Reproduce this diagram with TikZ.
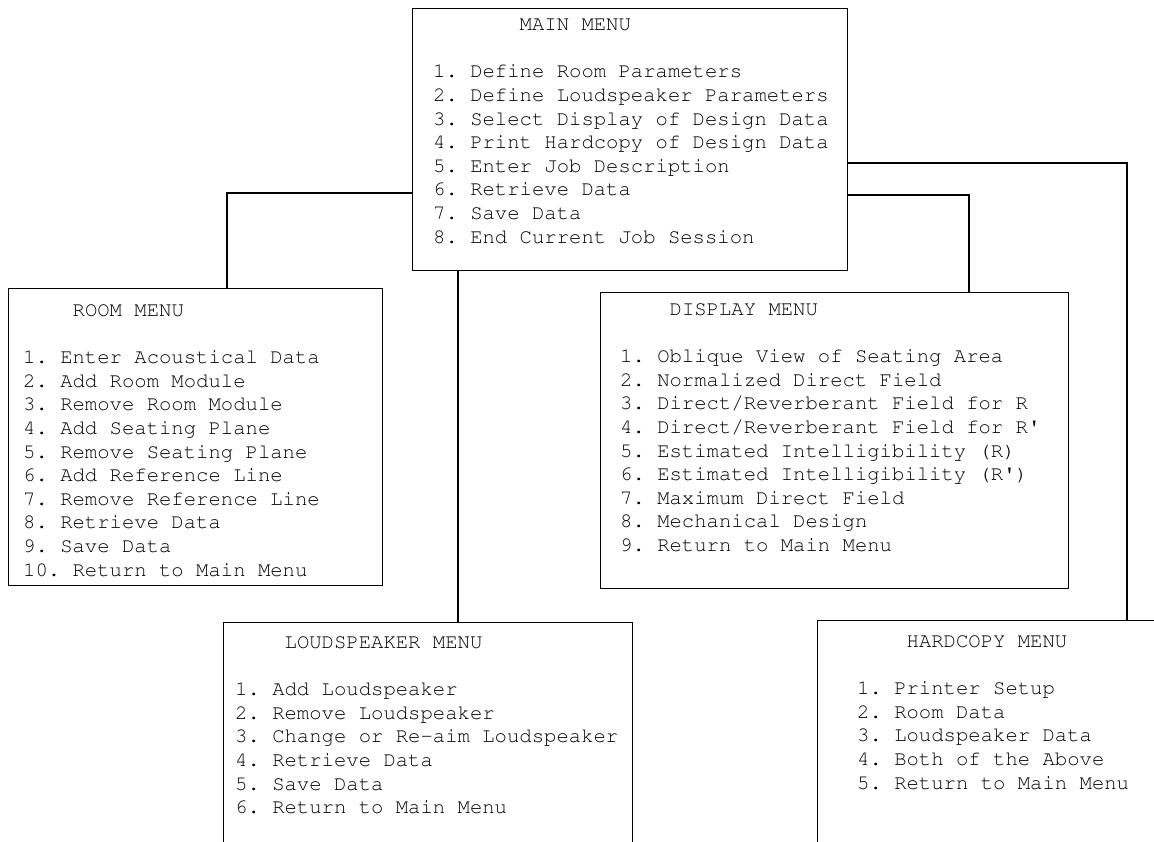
\documentclass[tikz,border=0pt]{standalone}
\usepackage[T1]{fontenc}
\usepackage{courier}
\usepackage{tikz}
\usetikzlibrary{positioning,calc}
\newlength{\cw}
\setlength{\cw}{12.36pt}
\tikzset{
  menubox/.style={rectangle,draw=black,line width=1.2pt,inner sep=0pt,anchor=north west},
  menutext/.style={inner sep=0pt,anchor=north west,align=left,
                   font=\fontsize{20.6}{23.6}\selectfont\ttfamily\frenchspacing},
  link/.style={draw=black,line width=1.2pt},
}

\begin{document}
\begin{tikzpicture}[x=1pt,y=-1pt]
  \useasboundingbox (0,0) rectangle (1154,842);
  \clip (0,0) rectangle (1154,842);
  % --- boxes (pixel coordinates, y down) ---
  \node[menubox,minimum width=435pt,minimum height=262pt] (main)  at (412,8)   {};
  \node[menubox,minimum width=374pt,minimum height=297pt] (room)  at (8,288)   {};
  \node[menubox,minimum width=468pt,minimum height=296pt] (disp)  at (600,292) {};
  \node[menubox,minimum width=409pt,minimum height=260pt] (spkr)  at (223,622) {};
  \node[menubox,minimum width=360pt,minimum height=260pt] (hcopy) at (817,620) {};
  % --- menu texts ---
  \node[menutext] (maintxt) at ([xshift=21pt,yshift=-11pt]main.north west)
    {\hspace*{7\cw}MAIN MENU\\[23.6pt]
     1. Define Room Parameters\\
     2. Define Loudspeaker Parameters\\
     3. Select Display of Design Data\\
     4. Print Hardcopy of Design Data\\
     5. Enter Job Description\\
     6. Retrieve Data\\
     7. Save Data\\
     8. End Current Job Session};
  \node[menutext] (roomtxt) at ([xshift=15pt,yshift=-16pt]room.north west)
    {\hspace*{4\cw}ROOM MENU\\[23.6pt]
     1. Enter Acoustical Data\\
     2. Add Room Module\\
     3. Remove Room Module\\
     4. Add Seating Plane\\
     5. Remove Seating Plane\\
     6. Add Reference Line\\
     7. Remove Reference Line\\
     8. Retrieve Data\\
     9. Save Data\\
     10. Return to Main Menu};
  \node[menutext] (disptxt) at ([xshift=20pt,yshift=-11pt]disp.north west)
    {\hspace*{4\cw}DISPLAY MENU\\[23.6pt]
     1. Oblique View of Seating Area\\
     2. Normalized Direct Field\\
     3. Direct/Reverberant Field for R\\
     4. Direct/Reverberant Field for R\textquotesingle\\
     5. Estimated Intelligibility (R)\\
     6. Estimated Intelligibility (R\textquotesingle)\\
     7. Maximum Direct Field\\
     8. Mechanical Design\\
     9. Return to Main Menu};
  \node[menutext] (spkrtxt) at ([xshift=12pt,yshift=-14pt]spkr.north west)
    {\hspace*{4\cw}LOUDSPEAKER MENU\\[23.6pt]
     1. Add Loudspeaker\\
     2. Remove Loudspeaker\\
     3. Change or Re-aim Loudspeaker\\
     4. Retrieve Data\\
     5. Save Data\\
     6. Return to Main Menu};
  \node[menutext] (hcopytxt) at ([xshift=40pt,yshift=-15pt]hcopy.north west)
    {\hspace*{4\cw}HARDCOPY MENU\\[23.6pt]
     1. Printer Setup\\
     2. Room Data\\
     3. Loudspeaker Data\\
     4. Both of the Above\\
     5. Return to Main Menu};
  % --- connectors ---
  \coordinate (rmtap) at (227,193);
  \coordinate (sptap) at (458,0);
  \coordinate (dstap) at (969,195);
  \coordinate (hctap) at (1127,163);
  \draw[link] (main.west |- rmtap) -| (room.north -| rmtap);
  \draw[link] (main.south -| sptap) -- (spkr.north -| sptap);
  \draw[link] (main.east |- dstap) -| (disp.north -| dstap);
  \draw[link] (main.east |- hctap) -| (hcopy.north -| hctap);
\end{tikzpicture}
\end{document}
